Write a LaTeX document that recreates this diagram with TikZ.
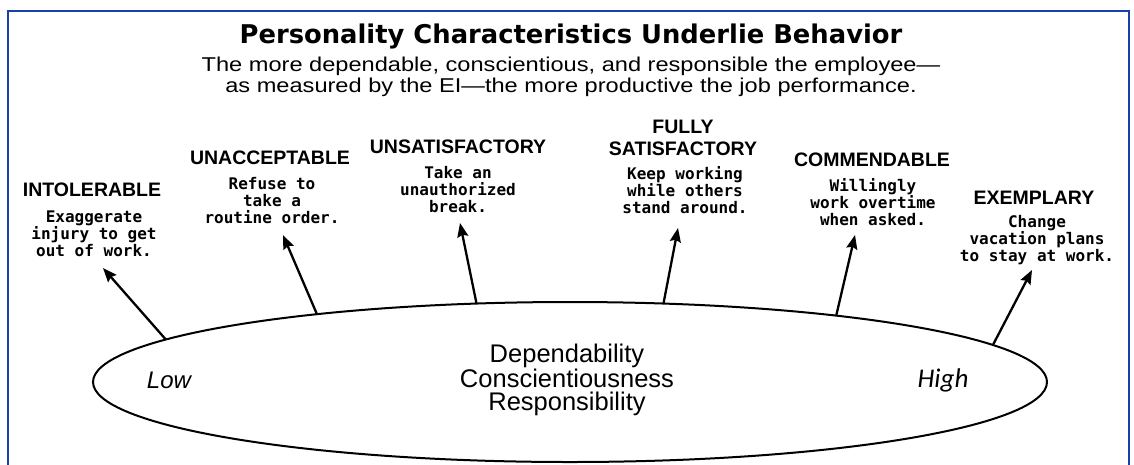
\documentclass[tikz,border=0pt]{standalone}
\usepackage{fontspec}
\setmainfont{Liberation Sans}
\newfontfamily\titlefont{DejaVu Sans}
\newfontfamily\widefont{Liberation Sans}[FakeStretch=1.18]
\newfontfamily\descfont{DejaVu Sans Mono}
\newfontfamily\highfont{Carlito}
\usetikzlibrary{shapes.geometric,arrows.meta}
\definecolor{framecol}{RGB}{25,65,165}
\begin{document}
\begin{tikzpicture}[x=1pt,y=-1pt,
  cat/.style={font=\fontsize{19.5}{22}\selectfont\bfseries, inner sep=0pt, align=center},
  desc/.style={font=\descfont\bfseries\fontsize{16}{17}\selectfont, inner sep=0pt, align=center},
  arr/.style={-{Stealth[length=14pt,width=11pt,inset=2pt]}, line width=2.3pt},
  frame/.style={draw=framecol, line width=2.5pt}]
\useasboundingbox (0,0) rectangle (1134,464);
\fill[white] (0,0) rectangle (1134,464);
\draw[frame] (8,470) -- (8,11) -- (1129,11) -- (1129,470);

\node[font=\titlefont\bfseries\fontsize{25.8}{30}\selectfont, anchor=base, inner sep=0pt] (title) at (571,43) {Personality Characteristics Underlie Behavior};
\node[font=\widefont\fontsize{20}{24}\selectfont, anchor=base, inner sep=0pt] (sub1) at (571,71) {The more dependable, conscientious, and responsible the employee—};
\node[font=\widefont\fontsize{20}{24}\selectfont, anchor=base, inner sep=0pt] (sub2) at (571,92) {as measured by the EI—the more productive the job performance.};

\node[ellipse, draw, line width=2pt, minimum width=954pt, minimum height=160pt, inner sep=0pt, outer sep=0pt] (ell) at (570,382) {};
\node[font=\fontsize{25.5}{23.5}\selectfont, align=center, inner sep=0pt] (mid) at (567,380) {Dependability\\Conscientiousness\\Responsibility};
\node[font=\itshape\fontsize{24}{28}\selectfont, inner sep=0pt] (low) at (169,380) {Low};
\node[font=\highfont\itshape\fontsize{27}{30}\selectfont, inner sep=0pt] (high) at (943,380) {High};

\node[cat] (c1) at (92,190) {INTOLERABLE};
\node[cat] (c2) at (270,158) {UNACCEPTABLE};
\node[cat] (c3) at (458,147) {UNSATISFACTORY};
\node[cat] (c4) at (683,137.5) {FULLY\\SATISFACTORY};
\node[cat] (c5) at (872,160) {COMMENDABLE};
\node[cat] (c6) at (1034,198) {EXEMPLARY};

\node[desc] (d1) at (94,233.5) {Exaggerate\\injury to get\\out of work.};
\node[desc] (d2) at (272,201) {Refuse to\\take a\\routine order.};
\node[desc] (d3) at (458,190) {Take an\\unauthorized\\break.};
\node[desc] (d4) at (685,190) {Keep working\\while others\\stand around.};
\node[desc] (d5) at (873,202) {Willingly\\work overtime\\when asked.};
\node[desc] (d6) at (1037,240) {Change\\vacation plans\\to stay at work.};

\coordinate (h1) at (103,268);
\coordinate (h2) at (283,235);
\coordinate (h3) at (460,223);
\coordinate (h4) at (678,228);
\coordinate (h5) at (855,235);
\coordinate (h6) at (1032,270);

\draw[arr] (ell.174.47) -- (h1);
\draw[arr] (ell.165.44) -- (h2);
\draw[arr] (ell.140.25) -- (h3);
\draw[arr] (ell.40.35) -- (h4);
\draw[arr] (ell.14.72) -- (h5);
\draw[arr] (ell.5.55) -- (h6);
\end{tikzpicture}
\end{document}
